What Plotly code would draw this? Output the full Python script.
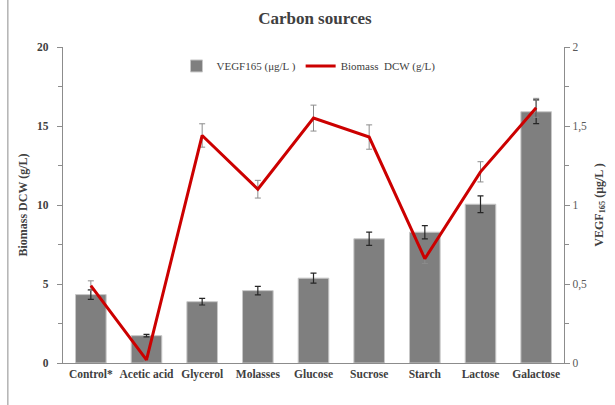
import plotly.graph_objects as go

# Carbon sources tested in the culture medium
categories = ["Control*", "Acetic acid", "Glycerol", "Molasses", "Glucose",
              "Sucrose", "Starch", "Lactose", "Galactose"]

# VEGF165 titre (µg/L) with standard deviation
vegf = [0.433, 0.173, 0.388, 0.458, 0.537, 0.786, 0.828, 1.005, 1.59]
vegf_err = [0.03, 0.008, 0.021, 0.027, 0.032, 0.042, 0.042, 0.053, 0.075]

# Biomass dry cell weight (g/L) with standard deviation
biomass = [4.9, 0.2, 14.4, 11.0, 15.5, 14.3, 6.6, 12.1, 16.15]
biomass_err = [0.3, 0.1, 0.74, 0.56, 0.82, 0.77, 0.3, 0.64, 0.6]

left_ticks = [0, 5, 10, 15, 20]
right_ticks = [0, 0.5, 1, 1.5, 2]
right_labels = ["0", "0,5", "1", "1,5", "2"]

SERIF = "Liberation Serif"
TEXT = "#404040"
AXIS = "#8c8c8c"

fig = go.Figure()

# VEGF bars on the base axis (right side) so the biomass line overlays them
fig.add_trace(go.Bar(
    x=categories, y=vegf, yaxis="y",
    name="VEGF165 (μg/L )",
    marker=dict(color="#7f7f7f", line=dict(color="#c8c8c8", width=1)),
    width=0.55,
    error_y=dict(type="data", array=vegf_err, color="#262626",
                 thickness=1.2, width=3),
))

fig.add_trace(go.Scatter(
    x=categories, y=biomass, yaxis="y2",
    name="Biomass  DCW (g/L)",
    mode="lines",
    line=dict(color="#cc0000", width=3),
    error_y=dict(type="data", array=biomass_err, color="#8c8c8c",
                 thickness=1, width=3),
))

fig.update_layout(
    width=615, height=405,
    margin=dict(l=63, r=51, t=47, b=42),
    paper_bgcolor="white", plot_bgcolor="white",
    font=dict(family=SERIF, color=TEXT, size=11),
    title=dict(text="<b>Carbon sources</b>", x=0.512, xanchor="center",
               y=0.955, yanchor="middle",
               font=dict(family=SERIF, size=17, color=TEXT)),
    showlegend=True,
    legend=dict(orientation="h", x=0.49, xanchor="center", y=0.94,
                yanchor="middle", bgcolor="rgba(0,0,0,0)",
                font=dict(family=SERIF, size=11, color=TEXT),
                itemwidth=30, tracegroupgap=0),
    bargap=0.45,
    xaxis=dict(
        type="category", range=[-0.5, 8.5],
        showline=True, linecolor=AXIS, linewidth=1.2,
        ticks="", showgrid=False,
        tickfont=dict(family=SERIF, size=11.5, color=TEXT, weight="bold"),
    ),
    yaxis=dict(
        range=[0, 2], side="right",
        tickvals=right_ticks, ticktext=right_labels,
        showline=True, linecolor=AXIS, linewidth=1.2,
        ticks="outside", ticklen=5, tickcolor=AXIS,
        minor=dict(dtick=0.25, ticks="outside", ticklen=4, tickcolor=AXIS),
        showgrid=False, zeroline=False,
        tickfont=dict(family=SERIF, size=11.5, color="#595959"),
        title=dict(text="<b>VEGF<sub>165</sub> (μg/L )</b>", standoff=8,
                   font=dict(family=SERIF, size=12, color=TEXT)),
    ),
    yaxis2=dict(
        range=[0, 20], overlaying="y", side="left", tickvals=left_ticks,
        showline=True, linecolor=AXIS, linewidth=1.2,
        ticks="outside", ticklen=5, tickcolor=AXIS,
        minor=dict(dtick=2.5, ticks="outside", ticklen=4, tickcolor=AXIS),
        showgrid=False, zeroline=False,
        ticklabelstandoff=6,
        tickfont=dict(family=SERIF, size=11.5, color=TEXT, weight="bold"),
        title=dict(text="<b>Biomass DCW (g/L)</b>", standoff=6,
                   font=dict(family=SERIF, size=12, color=TEXT)),
    ),
    shapes=[dict(type="line", xref="paper", yref="paper",
                 x0=-0.11, x1=-0.11, y0=-0.14, y1=1.16,
                 line=dict(color="#8c8c8c", width=1))],
)

fig.write_html("out.html")
